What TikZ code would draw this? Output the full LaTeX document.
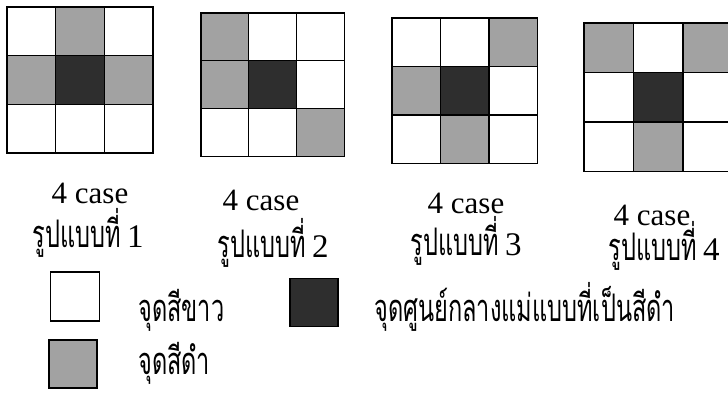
\documentclass[tikz,border=0pt]{standalone}
\usepackage{fontspec}
\setmainfont{Liberation Serif}
\newfontfamily\thaifont[Script=Thai,FakeStretch=0.62]{Loma}
\newfontfamily\numfont{Liberation Serif}
\usetikzlibrary{positioning}
\definecolor{DotGray}{RGB}{162,162,162}
\definecolor{CoreBlack}{RGB}{46,46,46}
\tikzset{
  cellbox/.style={draw,line width=1.3pt,inner sep=0pt,outer sep=0pt,
    minimum size=#1},
  cellbox/.default=48.5pt,
  whitecell/.style={cellbox=#1,fill=white},
  whitecell/.default=48.5pt,
  graycell/.style={cellbox=#1,fill=DotGray},
  graycell/.default=48.5pt,
  corecell/.style={cellbox=#1,fill=CoreBlack},
  corecell/.default=48.5pt,
  caselabel/.style={anchor=base,inner sep=0pt,font=\fontsize{31}{31}\selectfont},
  thailabel/.style={anchor=base,inner sep=0pt,font=\fontsize{38}{38}\thaifont},
  keylabel/.style={anchor=base west,inner sep=0pt,font=\fontsize{38}{38}\thaifont}
}
% one 3x3 pattern: name, left, top, cell size, gray cells (col/row)
\newcommand{\patgrid}[5]{%
  \foreach \c in {0,1,2}
    \foreach \r in {0,1,2}
      \node[whitecell=#4] (#1-\c-\r) at ({#2+#4*\c+#4/2},{#3+#4*\r+#4/2}) {};
  \foreach \c/\r in {#5}
    \node[graycell=#4] (#1-\c-\r) at ({#2+#4*\c+#4/2},{#3+#4*\r+#4/2}) {};
  \node[corecell=#4] (#1-1-1) at ({#2+#4*1.5},{#3+#4*1.5}) {};
}
\newcommand{\formno}[1]{รูปแบบที่\,{\numfont\fontsize{33}{33}\selectfont #1}}

\begin{document}
\begin{tikzpicture}[x=1pt,y=-1pt]
  \clip (0,0) rectangle (728,396);
  \fill[white] (0,0) rectangle (728,396);

  % the four patterns
  \patgrid{pa}{7}{7}{48.7}{1/0,0/1,2/1}
  \patgrid{pb}{201}{13}{47.8}{0/0,0/1,2/2}
  \patgrid{pc}{392}{18}{48.5}{2/0,0/1,1/2}
  \patgrid{pd}{584}{23}{49.5}{0/0,2/0,1/2}

  % captions
  \node[caselabel] (casea) at (90,203) {4 case};
  \node[thailabel] (forma) at (88,247) {\formno{1}};
  \node[caselabel] (caseb) at (261,210) {4 case};
  \node[thailabel] (formb) at (273,257) {\formno{2}};
  \node[caselabel] (casec) at (466,213) {4 case};
  \node[thailabel] (formc) at (466,255) {\formno{3}};
  \node[caselabel] (cased) at (652,225) {4 case};
  \node[thailabel] (formd) at (664,260) {\formno{4}};

  % key
  \node[whitecell=49pt] (keywhite) at (75,296.5) {};
  \node[graycell=48pt] (keygray) at (73,364) {};
  \node[corecell=48pt] (keycore) at (314,302.5) {};
  \node[keylabel] (txtwhite) at (138,321) {จุดสีขาว};
  \node[keylabel] (txtgray) at (138,374) {จุดสีดำ};
  \node[keylabel] (txtcore) at (374,321) {จุดศูนย์กลางแม่แบบที่เป็นสีดำ};
\end{tikzpicture}
\end{document}
